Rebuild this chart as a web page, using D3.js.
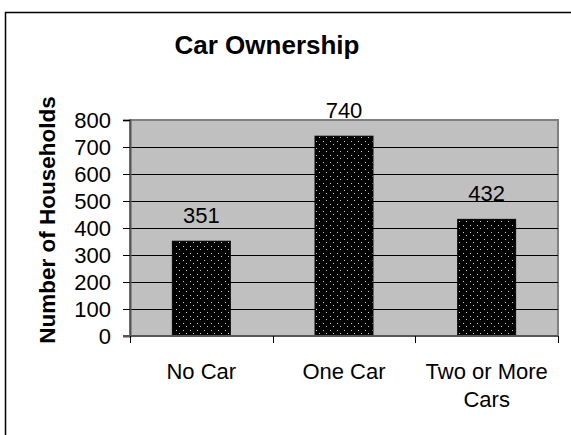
<!DOCTYPE html>
<html>
<head>
<meta charset="utf-8">
<script src="https://cdn.jsdelivr.net/npm/d3@7"></script>
<style>
  body { margin: 0; background: #fff; }
  text { font-family: 'Liberation Sans', Arial, sans-serif; fill: #000; }
</style>
</head>
<body>
<div id="chart"></div>
<script>
const categories = ['No Car', 'One Car', 'Two or More Cars']
const categoryLines = [['No Car'], ['One Car'], ['Two or More', 'Cars']]
const households = [351, 740, 432]
const yTicks = [0, 100, 200, 300, 400, 500, 600, 700, 800]

const W = 571
const H = 435
const plot = { left: 130, right: 558, top: 120, bottom: 336 }

const svg = d3
  .select('#chart')
  .append('svg')
  .attr('width', W)
  .attr('height', H)

// dotted bar fill
const pat = svg
  .append('defs')
  .append('pattern')
  .attr('id', 'dots')
  .attr('patternUnits', 'userSpaceOnUse')
  .attr('width', 7)
  .attr('height', 7)
pat.append('rect').attr('width', 7).attr('height', 7).attr('fill', '#000')
pat.append('rect').attr('x', 1).attr('y', 1).attr('width', 1).attr('height', 1).attr('fill', '#cfcfcf')
pat.append('rect').attr('x', 4).attr('y', 4).attr('width', 1).attr('height', 1).attr('fill', '#cfcfcf')

// outer frame
svg
  .append('rect')
  .attr('x', 5.5)
  .attr('y', 12.5)
  .attr('width', 700)
  .attr('height', 600)
  .attr('fill', 'none')
  .attr('stroke', '#000')
  .attr('stroke-width', 1.5)

const x = d3
  .scaleBand()
  .domain(categories)
  .range([plot.left, plot.right])
  .paddingInner(0.594)
  .paddingOuter(0.297)

const y = d3
  .scaleLinear()
  .domain([0, 800])
  .range([plot.bottom, plot.top])

// plot area
svg
  .append('rect')
  .attr('x', plot.left)
  .attr('y', plot.top)
  .attr('width', plot.right - plot.left)
  .attr('height', plot.bottom - plot.top)
  .attr('fill', '#c0c0c0')
  .attr('stroke', '#808080')
  .attr('stroke-width', 2)

// gridlines
svg
  .selectAll('.grid')
  .data(yTicks.filter(d => d > 0 && d < 800))
  .enter()
  .append('line')
  .attr('class', 'grid')
  .attr('x1', plot.left)
  .attr('x2', plot.right)
  .attr('y1', d => Math.round(y(d)) + 0.5)
  .attr('y2', d => Math.round(y(d)) + 0.5)
  .attr('stroke', '#000')
  .attr('stroke-width', 1)

// bars
svg
  .selectAll('.bar')
  .data(households)
  .enter()
  .append('rect')
  .attr('class', 'bar')
  .attr('x', (d, i) => x(categories[i]))
  .attr('y', d => y(d))
  .attr('width', x.bandwidth())
  .attr('height', d => y(0) - y(d))
  .attr('fill', 'url(#dots)')
  .attr('stroke', '#000')
  .attr('stroke-width', 1)

// value labels
svg
  .selectAll('.val')
  .data(households)
  .enter()
  .append('text')
  .attr('class', 'val')
  .attr('x', (d, i) => x(categories[i]) + x.bandwidth() / 2)
  .attr('y', d => y(d) - 18)
  .attr('text-anchor', 'middle')
  .attr('font-size', 22)
  .text(d => d)

// y axis
const yAxis = d3.axisLeft(y).tickValues(yTicks).tickSize(7).tickPadding(12)
const yg = svg
  .append('g')
  .attr('class', 'axis y-axis')
  .attr('transform', 'translate(' + plot.left + ',0)')
  .call(yAxis)
yg.select('.domain').attr('stroke', '#555').attr('stroke-width', 2)
yg.selectAll('.tick line').attr('stroke', '#000')
yg.selectAll('.tick text').attr('font-size', 22).attr('dy', '0.36em')

// x axis
const bounds = categories.map(c => x(c) + x.bandwidth() / 2 - x.step() / 2)
bounds.push(plot.right)
svg
  .append('line')
  .attr('x1', plot.left - 7)
  .attr('x2', plot.right)
  .attr('y1', plot.bottom)
  .attr('y2', plot.bottom)
  .attr('stroke', '#555')
  .attr('stroke-width', 2)
svg
  .selectAll('.xtick')
  .data(bounds)
  .enter()
  .append('line')
  .attr('class', 'xtick')
  .attr('x1', d => Math.round(d) + 0.5)
  .attr('x2', d => Math.round(d) + 0.5)
  .attr('y1', plot.bottom)
  .attr('y2', plot.bottom + 7)
  .attr('stroke', '#000')

const xl = svg
  .selectAll('.xlab')
  .data(categoryLines)
  .enter()
  .append('text')
  .attr('class', 'xlab')
  .attr('text-anchor', 'middle')
  .attr('font-size', 22)
xl.selectAll('tspan')
  .data((d, i) => d.map(t => ({ t, i })))
  .enter()
  .append('tspan')
  .attr('x', d => x(categories[d.i]) + x.bandwidth() / 2)
  .attr('y', (d, j) => 379 + j * 28)
  .text(d => d.t)

// title
svg
  .append('text')
  .attr('x', 267)
  .attr('y', 54)
  .attr('text-anchor', 'middle')
  .attr('font-size', 26)
  .attr('font-weight', 'bold')
  .text('Car Ownership')

// y axis title
svg
  .append('text')
  .attr('transform', 'translate(55,220) rotate(-90)')
  .attr('text-anchor', 'middle')
  .attr('font-size', 22.5)
  .attr('font-weight', 'bold')
  .text('Number of Households')
</script>
</body>
</html>
